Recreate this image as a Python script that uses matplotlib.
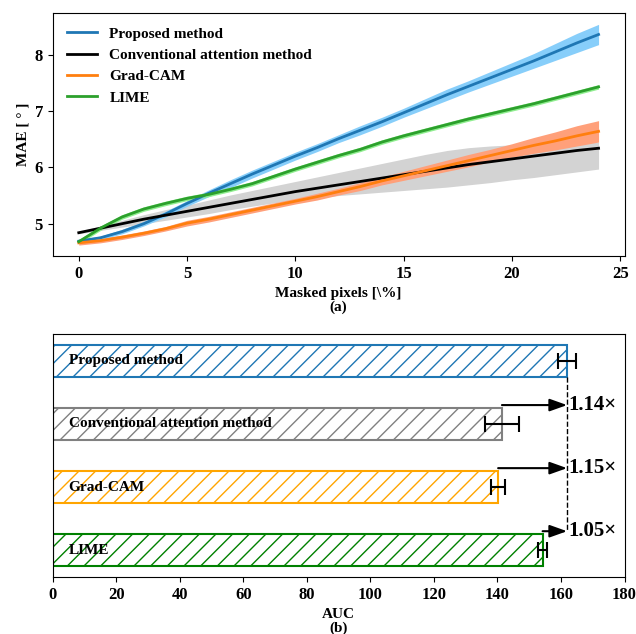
import numpy as np
import matplotlib
matplotlib.use("Agg")
import matplotlib.pyplot as plt

plt.rcParams['font.family'] = ['Liberation Serif', 'DejaVu Serif']
plt.rcParams['font.weight'] = 'bold'
plt.rcParams['axes.labelweight'] = 'bold'
plt.rcParams['font.size'] = 11

# --- (a) MAE vs masked pixels ---
masked = list(range(25))

proposed_mae = [4.69, 4.75, 4.86, 5.00, 5.17, 5.36, 5.54, 5.71, 5.88, 6.04, 6.20,
                6.35, 6.51, 6.66, 6.81, 6.97, 7.13, 7.29, 7.44, 7.59, 7.74,
                7.89, 8.05, 8.21, 8.36]
proposed_std = [0.03, 0.03, 0.04, 0.04, 0.05, 0.05, 0.06, 0.07, 0.07, 0.07, 0.07,
                0.07, 0.07, 0.08, 0.08, 0.08, 0.09, 0.10, 0.10, 0.11, 0.12,
                0.13, 0.15, 0.17, 0.18]

conv_mae = [4.84, 4.92, 5.00, 5.08, 5.15, 5.22, 5.29, 5.36, 5.43, 5.50, 5.57,
            5.63, 5.69, 5.75, 5.81, 5.87, 5.93, 5.99, 6.05, 6.10, 6.15,
            6.20, 6.25, 6.30, 6.34]
conv_low = [4.82, 4.88, 4.94, 5.00, 5.06, 5.12, 5.18, 5.25, 5.31, 5.37, 5.42,
            5.46, 5.50, 5.53, 5.56, 5.59, 5.62, 5.65, 5.69, 5.73, 5.78,
            5.82, 5.87, 5.92, 5.97]
conv_high = [4.86, 4.96, 5.06, 5.16, 5.25, 5.33, 5.42, 5.51, 5.59, 5.67, 5.75,
             5.83, 5.91, 5.99, 6.07, 6.15, 6.23, 6.30, 6.35, 6.38, 6.40,
             6.42, 6.43, 6.44, 6.45]

gradcam_mae = [4.66, 4.70, 4.76, 4.83, 4.91, 5.01, 5.08, 5.16, 5.24, 5.32, 5.40,
               5.48, 5.57, 5.66, 5.76, 5.85, 5.94, 6.03, 6.12, 6.21, 6.30,
               6.39, 6.47, 6.56, 6.64]
gradcam_std = [0.04, 0.04, 0.04, 0.04, 0.04, 0.05, 0.05, 0.05, 0.05, 0.05, 0.05,
               0.06, 0.06, 0.07, 0.07, 0.08, 0.09, 0.10, 0.11, 0.11, 0.12,
               0.14, 0.16, 0.18, 0.19]

lime_mae = [4.68, 4.92, 5.12, 5.26, 5.36, 5.45, 5.52, 5.61, 5.71, 5.84, 5.97,
            6.09, 6.21, 6.32, 6.45, 6.56, 6.66, 6.76, 6.86, 6.95, 7.04,
            7.13, 7.23, 7.33, 7.43]
lime_std = [0.04] * 25

# --- (b) AUC ---
methods = ['Proposed method', 'Conventional attention method', 'Grad-CAM', 'LIME']
auc = [161.9, 141.4, 140.2, 154.2]
auc_err = [2.9, 5.3, 2.3, 1.3]
ratio_labels = ['', '1.14×', '1.15×', '1.05×']

fig = plt.figure(figsize=(6.36, 6.34), dpi=100)
ax1 = fig.add_axes([0.083, 0.596, 0.899, 0.383])
ax2 = fig.add_axes([0.083, 0.090, 0.899, 0.383])

x = np.array(masked)
p = np.array(proposed_mae); ps = np.array(proposed_std)
g = np.array(gradcam_mae); gs = np.array(gradcam_std)
l = np.array(lime_mae); ls = np.array(lime_std)

ax1.fill_between(x, conv_low, conv_high, color='lightgray', lw=0)
ax1.fill_between(x, g - gs, g + gs, color='#FFA07A', lw=0)
ax1.fill_between(x, p - ps, p + ps, color='#87CEFA', lw=0)
ax1.fill_between(x, l - ls, l + ls, color='#90EE90', lw=0)
ax1.plot(x, p, color='#1f77b4', lw=2, label='Proposed method')
ax1.plot(x, conv_mae, color='black', lw=2, label='Conventional attention method')
ax1.plot(x, g, color='#ff7f0e', lw=2, label='Grad-CAM')
ax1.plot(x, l, color='#2ca02c', lw=2, label='LIME')
ax1.set_xticks([0, 5, 10, 15, 20, 25])
ax1.set_yticks([5, 6, 7, 8])
ax1.set_ylabel('MAE [ ° ]')
ax1.set_xlabel('Masked pixels [\\%]\n(a)', linespacing=1.0)
ax1.legend(loc='upper left', frameon=False, fontsize=11)

# bars
ypos = np.arange(len(methods))
edge_colors = ['#1f77b4', 'gray', 'orange', 'green']
for i in range(len(methods)):
    ax2.barh(ypos[i], auc[i], height=0.5, color='white', edgecolor=edge_colors[i],
             hatch='//', lw=1.5)
    ax2.errorbar(auc[i], ypos[i], xerr=auc_err[i], color='black', capsize=5.5,
                 elinewidth=1.5, capthick=1.5)
    ax2.text(5, ypos[i], methods[i], va='center', ha='left', fontsize=11)

best = auc[0]
ax2.plot([best, best], [0.25, 2.7], color='black', ls='--', lw=1)
for i in range(1, len(methods)):
    ya = ypos[i] - 0.3
    ax2.annotate('', xy=(best, ya), xytext=(auc[i], ya),
                 arrowprops=dict(arrowstyle='-|>,head_length=0.7,head_width=0.25',
                                 color='black', lw=1.5,
                                 mutation_scale=15, shrinkA=0, shrinkB=0))
    ax2.text(best + 0.5, ya, ratio_labels[i], va='center', ha='left', fontsize=15)

ax2.set_xlim(0, 180)
ax2.set_xticks(range(0, 181, 20))
ax2.set_yticks([])
ax2.invert_yaxis()
ax2.set_xlabel('AUC\n(b)', linespacing=1.0)

for ax in (ax1, ax2):
    ax.tick_params(labelsize=12)

fig.savefig('out.png', dpi=100)
